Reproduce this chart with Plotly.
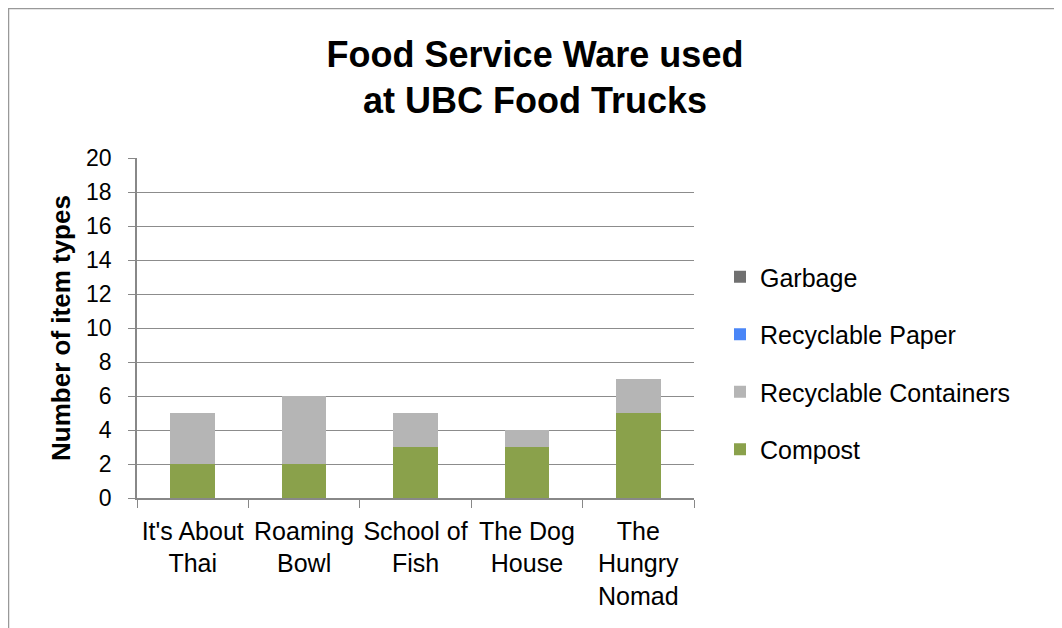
import plotly.graph_objects as go

categories = ["It's About<br>Thai", "Roaming<br>Bowl", "School of<br>Fish", "The Dog<br>House", "The<br>Hungry<br>Nomad"]
compost = [2, 2, 3, 3, 5]
recyclable_containers = [3, 4, 2, 1, 2]
recyclable_paper = [0, 0, 0, 0, 0]
garbage = [0, 0, 0, 0, 0]
y_ticks = list(range(0, 21, 2))

series = [
    ("Compost", compost, "#8AA14B", 4),
    ("Recyclable Containers", recyclable_containers, "#B5B5B5", 3),
    ("Recyclable Paper", recyclable_paper, "#4A86F7", 2),
    ("Garbage", garbage, "#707070", 1),
]

fig = go.Figure()
for name, vals, color, rank in series:
    fig.add_trace(go.Bar(x=categories, y=vals, name=name, marker_color=color,
                         marker_line_width=0, legendgroup=name, legendrank=rank))

font = "Liberation Sans, Arial, sans-serif"
W, H = 1054, 620
L, R, T, B = 129, 368, 150, 130
PW, PH = W - L - R, H - T - B

fig.update_layout(
    width=W, height=H,
    barmode="stack", bargap=0.6,
    paper_bgcolor="white", plot_bgcolor="white",
    margin=dict(l=L, r=R, t=T, b=B, autoexpand=False),
    font=dict(family=font, size=24, color="black"),
    title=dict(text="<b>Food Service Ware used<br>at UBC Food Trucks</b>", x=(535 - 8) / W, xanchor="center",
               y=1 - 58.5 / H, yanchor="middle", font=dict(size=36, family=font)),
    legend=dict(x=(712 - L) / PW, xanchor="left", y=(T + PH - 355) / PH, yanchor="middle",
                traceorder="grouped", tracegroupgap=22,
                font=dict(size=25, family=font), itemwidth=30, bgcolor="rgba(0,0,0,0)"),
    showlegend=True,
)
fig.update_xaxes(showline=True, linecolor="#888888", linewidth=1.5, ticks="outside",
                 tickson="boundaries", ticklen=8, tickcolor="#888888",
                 tickfont=dict(size=25), ticklabelstandoff=10, tickangle=0, automargin=False)
fig.update_yaxes(range=[0, 20], tickvals=y_ticks, showgrid=True, gridcolor="#8C8C8C", gridwidth=1.3,
                 showline=True, linecolor="#888888", linewidth=1.5, ticks="outside", ticklen=7,
                 tickcolor="#888888", tickfont=dict(size=23), zeroline=False, automargin=False,
                 ticklabelstandoff=12,
                 title=dict(text="<b>Number of item types</b>", font=dict(size=26), standoff=8))
fig.add_shape(type="rect", xref="paper", yref="paper",
              x0=(0.5 - L) / PW, x1=(W + 20 - L) / PW,
              y0=(T + PH - (H + 20)) / PH, y1=(T + PH - 0.5) / PH,
              line=dict(color="#999999", width=1.5))
fig.write_html("out.html")
